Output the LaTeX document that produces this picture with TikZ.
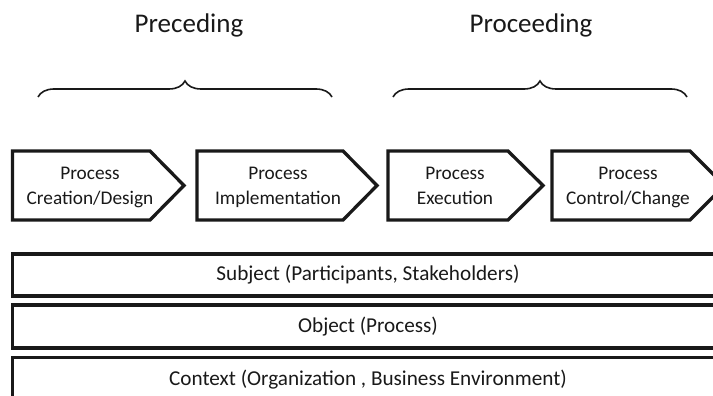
\documentclass[tikz,border=0pt]{standalone}
\usepackage{fontspec}
\setmainfont{Carlito}
\usetikzlibrary{decorations.pathreplacing}

\begin{document}
\begin{tikzpicture}[x=1pt,y=-1pt]

  \useasboundingbox (0,0) rectangle (713,396);
  \clip (0,0) rectangle (713,396);

  % styles
  \tikzstyle{Step}=[draw=black!90,line width=3.3pt,line join=miter]

  \tikzstyle{Layer}=[
  shape=rectangle,draw=black!90,line width=3.3pt,
  minimum width=711.5pt,inner sep=0pt,outer sep=0pt]

  \tikzstyle{Label}=[align=center,inner sep=0pt,text=black!90,
  text depth=5.5pt,font=\fontsize{19.3}{25}\selectfont]
  \tikzstyle{LayerLabel}=[inner sep=0pt,text=black!90,
  font=\fontsize{21.2}{25}\selectfont]
  \tikzstyle{Phase}=[anchor=base,inner sep=0pt,text=black!90,
  font=\fontsize{27}{32}\selectfont]
  \tikzstyle{Brace}=[decorate,decoration={brace,amplitude=16pt},
  line width=1.6pt,draw=black!90]

  % phases
  \node[Phase] (Pre)  at (189,33) {Preceding};
  \node[Phase] (Pro)  at (531,33) {Proceeding};

  \coordinate (B1a) at (38,97);
  \coordinate (B1b) at (332,97);
  \coordinate (B2a) at (393,97);
  \coordinate (B2b) at (687,97);
  \draw[Brace] (B1a) -- (B1b);
  \draw[Brace] (B2a) -- (B2b);

  % process steps
  \draw[Step] (12.5,151) -- (150,151) -- (184,185.5) -- (150,220) -- (12.5,220) -- cycle;
  \draw[Step] (197,151) -- (343,151) -- (377,185.5) -- (343,220) -- (197,220) -- cycle;
  \draw[Step] (388,151) -- (508,151) -- (543,185.5) -- (508,220) -- (388,220) -- cycle;
  \draw[Step] (552,151) -- (690,151) -- (724.5,185.5) -- (690,220) -- (552,220) -- cycle;

  \node[Label] (L1) at (90,189)  {Process\\Creation/Design};
  \node[Label] (L2) at (278,189) {Process\\Implementation};
  \node[Label] (L3) at (455,189) {Process\\Execution};
  \node[Label] (L4) at (628,189) {Process\\Control/Change};

  % layers
  \node[Layer,minimum height=42pt] (Sub) at (368,275) {};
  \node[Layer,minimum height=43pt] (Obj) at (368,326.5) {};
  \node[Layer,minimum height=44pt] (Ctx) at (368,379.3) {};

  \node[LayerLabel] (LSub) at (Sub.center) {Subject (Participants, Stakeholders)};
  \node[LayerLabel] (LObj) at (Obj.center) {Object (Process)};
  \node[LayerLabel] (LCtx) at (Ctx.center) {Context (Organization , Business Environment)};

\end{tikzpicture}
\end{document}
